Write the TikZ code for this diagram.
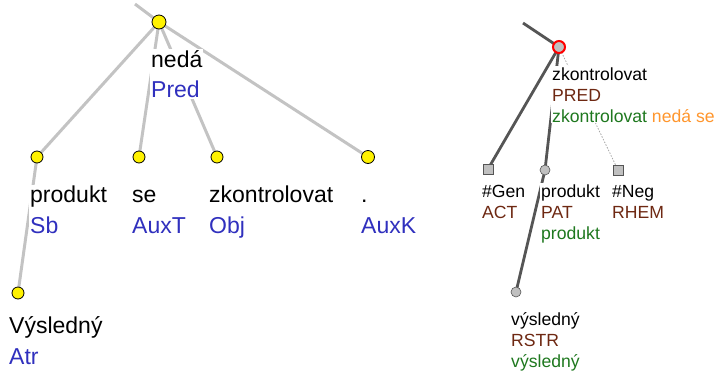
\documentclass[tikz,border=0pt]{standalone}
\usepackage{fontspec}
\setmainfont{Liberation Sans}
\usetikzlibrary{backgrounds}
\definecolor{agray}{RGB}{195,195,195}
\definecolor{afun}{RGB}{48,48,190}
\definecolor{tline}{RGB}{85,85,85}
\definecolor{tfill}{RGB}{192,192,192}
\definecolor{tfun}{RGB}{110,40,18}
\definecolor{tgreen}{RGB}{30,120,30}
\definecolor{torange}{RGB}{255,150,45}
\begin{document}
\begin{tikzpicture}[x=1pt,y=-1pt,
  aedge/.style={draw=agray,line width=3pt},
  yn/.style={circle,draw=black,line width=0.8pt,fill=yellow,minimum size=12pt,inner sep=0pt},
  alab/.style={anchor=base west,align=left,fill=white,inner sep=1pt,font=\fontsize{23}{30.5}\selectfont},
  tedge/.style={draw=tline,line width=2.8pt},
  tdot/.style={draw=gray!70,line width=0.8pt,dash pattern=on 1.5pt off 1.5pt},
  tc/.style={circle,draw=tline,line width=0.6pt,fill=tfill,minimum size=10pt,inner sep=0pt},
  tsq/.style={rectangle,draw=tline,line width=0.6pt,fill=tfill,minimum size=10pt,inner sep=0pt},
  tlab/.style={anchor=base west,align=left,fill=white,inner sep=1pt,font=\fontsize{17.6}{21}\selectfont}]
\useasboundingbox (0,0) rectangle (718,373);

% ---- left tree (analytical) ----
\coordinate (aroot) at (135,4);
\node[yn,minimum size=14pt] (neda) at (159,22) {};
\node[yn] (produkt) at (37,157) {};
\node[yn] (se) at (139,157) {};
\node[yn] (zk) at (217,157) {};
\node[yn,minimum size=13pt] (tecka) at (368,157) {};
\node[yn] (vys) at (18,293) {};

\node[alab] (neda-l) at (150,97.5) {nedá\\\color{afun}Pred};
\node[alab] (produkt-l) at (29,233) {produkt\\\color{afun}Sb};
\node[alab] (se-l) at (131,233) {se\\\color{afun}AuxT};
\node[alab] (zk-l) at (208,233) {zkontrolovat\\\color{afun}Obj};
\node[alab] (tecka-l) at (360,233) {.\\\color{afun}AuxK};
\node[alab] (vys-l) at (8,364) {Výsledný\\\color{afun}Atr};

% ---- right tree (tectogrammatical) ----
\coordinate (troot) at (523,23);
\node[tc,draw=red,line width=2pt,minimum size=12pt] (tzk) at (559,47) {};
\node[tsq] (gen) at (488,169) {};
\node[tc] (tprod) at (545,170) {};
\node[tsq] (neg) at (618,170) {};
\node[tc] (tvys) at (516,292) {};

\node[tlab] (tzk-l) at (551,122) {zkontrolovat\\\color{tfun}PRED\\\color{tgreen}zkontrolovat \color{torange}nedá se};
\node[tlab] (gen-l) at (481,218) {\#Gen\\\color{tfun}ACT};
\node[tlab] (tprod-l) at (540,239) {produkt\\\color{tfun}PAT\\\color{tgreen}produkt};
\node[tlab] (neg-l) at (611,218) {\#Neg\\\color{tfun}RHEM};
\node[tlab] (tvys-l) at (510,367) {výsledný\\\color{tfun}RSTR\\\color{tgreen}výsledný};

\begin{pgfonlayer}{background}
\draw[aedge] (aroot) -- (neda.center);
\draw[aedge] (neda.center) -- (produkt.center);
\draw[aedge] (neda.center) -- (se.center);
\draw[aedge] (neda.center) -- (zk.center);
\draw[aedge] (neda.center) -- (tecka.center);
\draw[aedge] (produkt.center) -- (vys.center);
\draw[tedge] (troot) -- (tzk.center);
\draw[tedge] (tzk.center) -- (gen.center);
\draw[tedge] (tzk.center) -- (tprod.center);
\draw[tdot] (tzk.center) -- (neg.center);
\draw[tedge] (tprod.center) -- (tvys.center);
\end{pgfonlayer}
\end{tikzpicture}
\end{document}
